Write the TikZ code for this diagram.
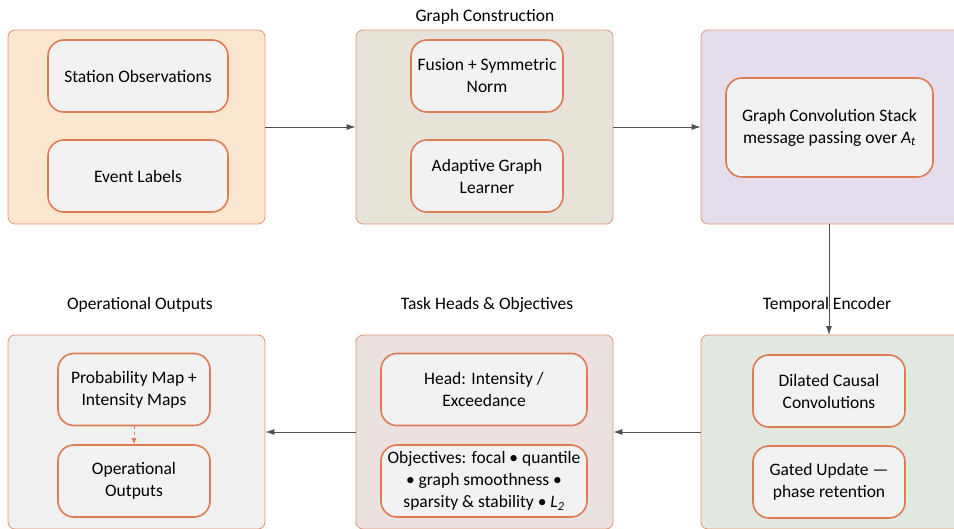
\documentclass[tikz,border=0pt]{standalone}
\usepackage{fontspec}
\setmainfont{Carlito}
\usetikzlibrary{arrows.meta}

\definecolor{edge}{HTML}{DE7B52}
\definecolor{inner}{HTML}{F2F2F2}
\definecolor{peach}{HTML}{FBE7CF}
\definecolor{sand}{HTML}{E8E3D9}
\definecolor{lilac}{HTML}{E5DDEB}
\definecolor{mist}{HTML}{F0F0F0}
\definecolor{rose}{HTML}{EBE2DF}
\definecolor{sage}{HTML}{E2E9E0}
\definecolor{wire}{HTML}{505050}

\begin{document}
\begin{tikzpicture}[x=1pt,y=-1pt,
	font=\fontsize{17.5}{22}\selectfont,
	group/.style={draw=edge!80,line width=0.8pt,rounded corners=7pt,
		minimum width=257pt,minimum height=194pt},
	box/.style={draw=edge,fill=inner,line width=1.6pt,rounded corners=16pt,
		align=center,minimum width=152pt,minimum height=72pt},
	flow/.style={draw=wire,line width=0.8pt,-{Latex[length=9pt,width=6pt]}},
	title/.style={anchor=base}]
	\useasboundingbox (0,0) rectangle (954,528);
	\clip (0,0) rectangle (954,528);
	% containers
	\node[group,fill=peach](a) at (136.5,127){};
	\node[group,fill=sand](b) at (484.5,127){};
	\node[group,fill=lilac,minimum width=262pt](c) at (832,127){};
	\node[group,fill=sage,minimum width=262pt](d) at (832,432){};
	\node[group,fill=rose](e) at (484.5,432){};
	\node[group,fill=mist](f) at (136.5,432){};
	% titles
	\node[title](tb) at (485,21){Graph Construction};
	\node[title](td) at (827,309){Temporal Encoder};
	\node[title](te) at (487,309){Task Heads \& Objectives};
	\node[title](tf) at (140,309){Operational Outputs};
	% inner boxes
	\node[box,minimum width=180pt](a1) at (138,76){Station Observations};
	\node[box,minimum width=180pt](a2) at (138,176){Event Labels};
	\node[box](b1) at (487,76){Fusion + Symmetric\\Norm};
	\node[box](b2) at (487,176){Adaptive Graph\\Learner};
	\node[box,minimum width=207pt,minimum height=99pt](c1) at (829.5,127.5){Graph Convolution Stack\\message passing over \textit{A\textsubscript{t}}};
	\node[box](d1) at (829,391){Dilated Causal\\Convolutions};
	\node[box](d2) at (829,482){Gated Update —\\phase retention};
	\node[box,minimum width=206pt](e1) at (484,389.5){Head: Intensity /\\Exceedance};
	\node[box,minimum width=206pt](e2) at (484,481){Objectives: focal • quantile\\• graph smoothness •\\sparsity \& stability • \textit{L\textsubscript{2}}};
	\node[box](f1) at (134,389.5){Probability Map +\\Intensity Maps};
	\node[box](f2) at (134,481){Operational\\Outputs};
	% connectors
	\draw[flow](a.east)--(b.west);
	\draw[flow](b.east)--(b.east -| c.west);
	\draw[flow](829,224)--(829,335);
	\draw[flow](d.west)--(e.east);
	\draw[flow](e.west)--(f.east);
	\draw[draw=edge,dashed,line width=0.8pt,-{Latex[length=6pt,width=5pt]}](f1.south)--(f2.north);
\end{tikzpicture}
\end{document}
